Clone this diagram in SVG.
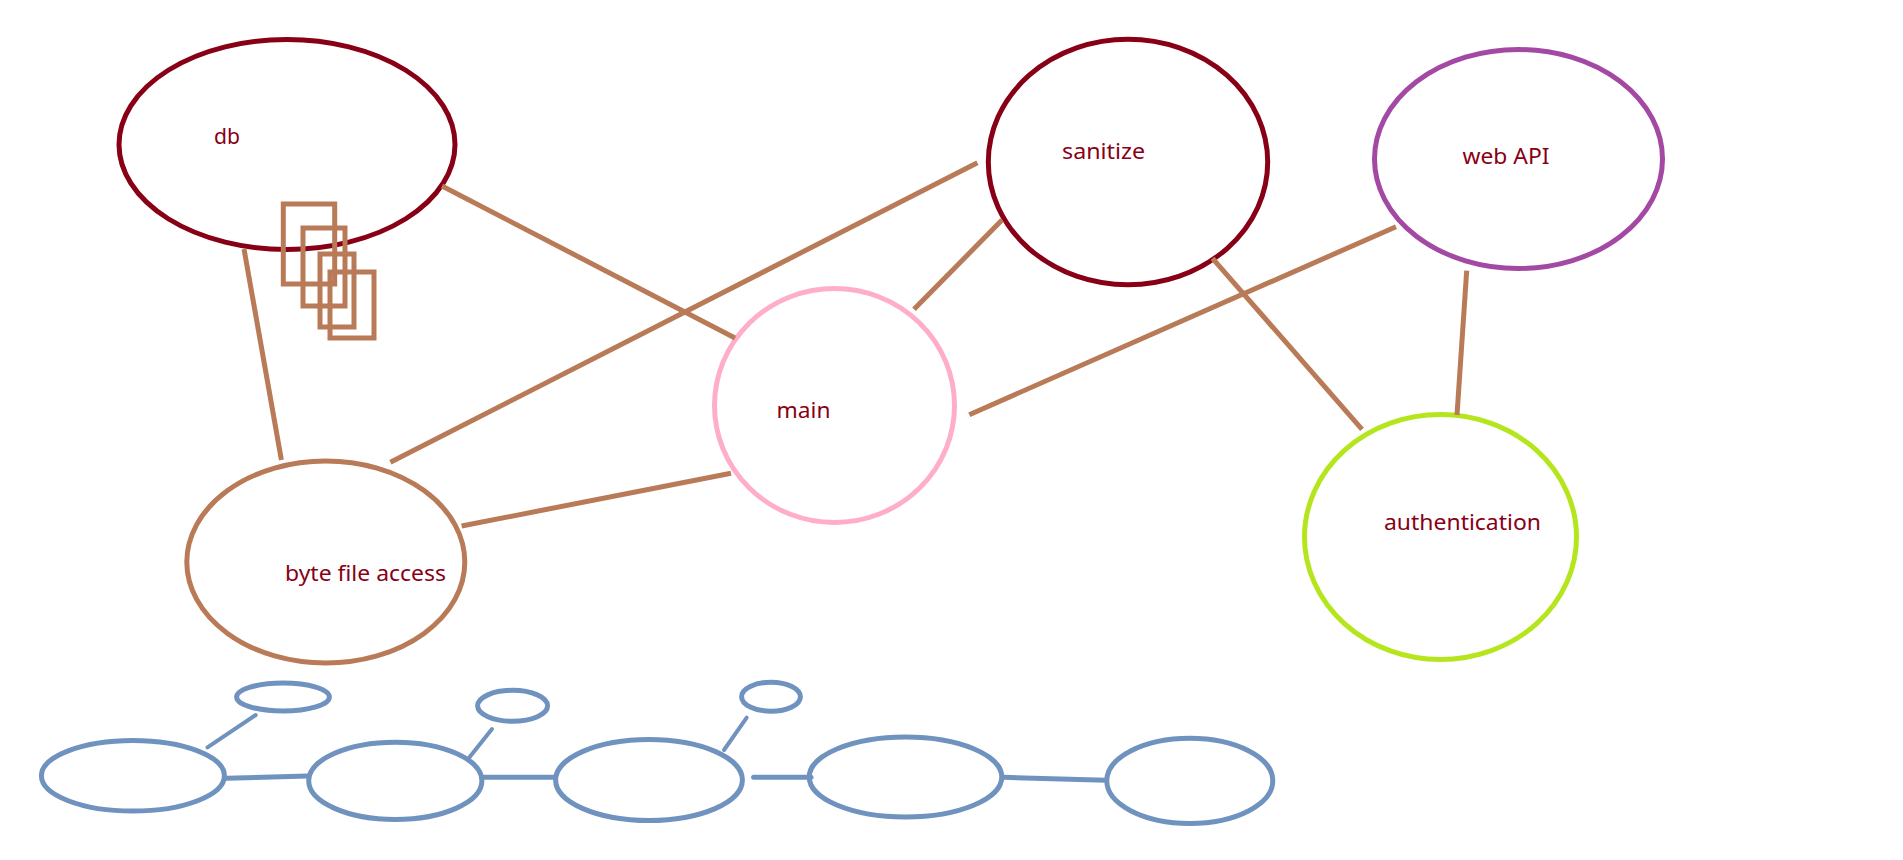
<svg xmlns="http://www.w3.org/2000/svg" width="1903" height="860" viewBox="0 0 1903 860">
<style>
.n{fill:none;stroke-width:5}
.red{stroke:#880015}
.brown{stroke:#B97A57}
.pink{stroke:#FFAEC9}
.purple{stroke:#A349A4}
.lime{stroke:#B5E61D}
.blue{stroke:#7092BE}
.c line{stroke-width:5}
.cb line{stroke:#B97A57}
.cl line{stroke:#7092BE;stroke-linecap:round}
.cl line.d{stroke-width:4}
text{font-family:"Noto Sans","Open Sans","Liberation Sans",sans-serif;font-size:22.5px;fill:#880015}
</style>
<rect width="1903" height="860" fill="#fff"/>
<g id="node-db"><ellipse class="n red" cx="287" cy="144.5" rx="168" ry="105"/><text x="214" y="144" textLength="26" lengthAdjust="spacingAndGlyphs">db</text></g>
<g id="node-sanitize"><ellipse class="n red" cx="1128" cy="162" rx="139.7" ry="122.7"/><text x="1062" y="159" textLength="83" lengthAdjust="spacingAndGlyphs">sanitize</text></g>
<g id="node-web-api"><ellipse class="n purple" cx="1518.5" cy="159" rx="144" ry="109.5"/><text x="1462.5" y="164" textLength="87" lengthAdjust="spacingAndGlyphs">web API</text></g>
<g id="node-main"><ellipse class="n pink" cx="834.5" cy="405.5" rx="120" ry="117"/><text x="776.5" y="417.5" textLength="54" lengthAdjust="spacingAndGlyphs">main</text></g>
<g id="node-byte-file-access"><ellipse class="n brown" cx="325.8" cy="562" rx="139" ry="101"/><text x="285" y="580.5" textLength="161" lengthAdjust="spacingAndGlyphs">byte file access</text></g>
<g id="node-authentication"><ellipse class="n lime" cx="1440.5" cy="537" rx="136" ry="122.5"/><text x="1384" y="530" textLength="157" lengthAdjust="spacingAndGlyphs">authentication</text></g>
<g id="node-stack" class="n brown">
<rect x="283.3" y="204" width="51.4" height="80"/>
<rect x="303" y="228" width="42" height="78"/>
<rect x="320" y="254" width="34" height="73"/>
<rect x="330" y="272" width="44" height="66"/>
</g>
<g id="node-b1"><ellipse class="n blue" cx="132.9" cy="775.8" rx="91.5" ry="35.3"/></g>
<g id="node-b2"><ellipse class="n blue" cx="395.3" cy="780.8" rx="86.6" ry="38.6"/></g>
<g id="node-b3"><ellipse class="n blue" cx="649" cy="780" rx="93.4" ry="40.5"/></g>
<g id="node-b4"><ellipse class="n blue" cx="905.5" cy="777" rx="96.3" ry="40"/></g>
<g id="node-b5"><ellipse class="n blue" cx="1189.8" cy="780.8" rx="83" ry="42.6"/></g>
<g id="node-s1"><ellipse class="n blue" cx="283" cy="697" rx="46.4" ry="14"/></g>
<g id="node-s2"><ellipse class="n blue" cx="512.6" cy="705.8" rx="35" ry="15.5"/></g>
<g id="node-s3"><ellipse class="n blue" cx="771" cy="696.7" rx="29.4" ry="14.5"/></g>
<g id="connectors" class="c">
<g class="cb">
<line x1="244" y1="249" x2="281.4" y2="460"/>
<line x1="442" y1="186" x2="735" y2="338"/>
<line x1="461.6" y1="526" x2="731" y2="473.3"/>
<line x1="390.4" y1="462.3" x2="977.4" y2="162.7"/>
<line x1="1002" y1="220" x2="914" y2="309.3"/>
<line x1="969.3" y1="414.7" x2="1396" y2="226.7"/>
<line x1="1212.5" y1="258.3" x2="1362" y2="429.3"/>
<line x1="1466.7" y1="270.7" x2="1457" y2="415"/>
</g>
<g class="cl">
<line class="d" x1="207.5" y1="747.3" x2="255.7" y2="715"/>
<line x1="226.7" y1="778.3" x2="308" y2="776"/>
<line class="d" x1="468.7" y1="758.3" x2="492" y2="729"/>
<line x1="482" y1="777.3" x2="554.8" y2="777.3"/>
<line class="d" x1="724" y1="750" x2="746.7" y2="717.7"/>
<line x1="753.6" y1="777.3" x2="811" y2="777.3"/>
<line x1="1004" y1="777.3" x2="1105.7" y2="780.3"/>
</g>
</g>
</svg>
